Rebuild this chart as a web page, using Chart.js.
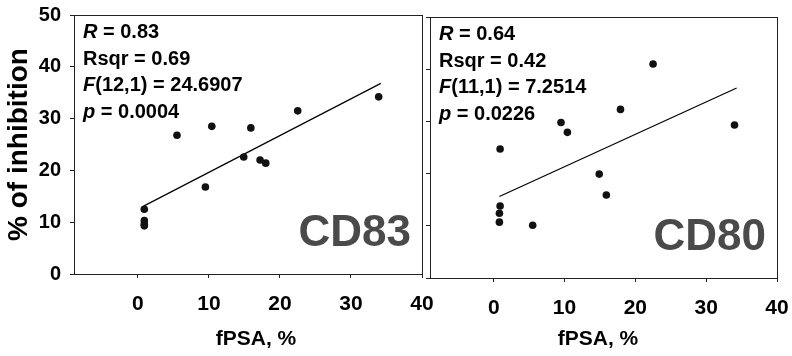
<!DOCTYPE html>
<html>
<head>
<meta charset="utf-8">
<script src="https://cdn.jsdelivr.net/npm/chart.js@4.4.1/dist/chart.umd.min.js"></script>
<style>
  html, body { margin: 0; padding: 0; background: #fff; }
  #wrap { position: relative; width: 792px; height: 356px; overflow: hidden; }
  #wrap canvas { position: absolute; top: 0; }
  #chartCD83 { left: 0; }
  #chartCD80 { left: 410px; }
</style>
</head>
<body>
<div id="wrap">
  <canvas id="chartCD83" width="440" height="356"></canvas>
  <canvas id="chartCD80" width="382" height="356"></canvas>
</div>
<script>
// --- данные ---
const xTickValues = [0, 10, 20, 30, 40];
const yTickValues = [0, 10, 20, 30, 40, 50];

// CD83
const fpsaCD83  = [0.9, 0.9, 0.9, 0.9, 5.5, 9.5, 10.4, 14.9, 15.9, 17.2, 18.0, 22.5, 33.9];
const inhibCD83 = [12.5, 10.3, 9.6, 9.3, 26.8, 16.8, 28.5, 22.6, 28.2, 22.0, 21.4, 31.5, 34.2];
const fitXCD83  = [0.8, 34.2];
const fitYCD83  = [13.1, 36.8];
const statsCD83 = ['0.83', '0.69', '(12,1)', '24.6907', '0.0004'];

// CD80
const fpsaCD80  = [0.9, 0.9, 0.8, 0.8, 5.5, 9.5, 10.4, 14.9, 15.9, 17.9, 22.5, 34.0];
const inhibCD80 = [24.7, 13.8, 12.4, 10.7, 10.1, 29.8, 27.9, 19.9, 15.9, 32.3, 41.0, 29.3];
const fitXCD80  = [0.8, 34.3];
const fitYCD80  = [15.6, 36.4];
const statsCD80 = ['0.64', '0.42', '(11,1)', '7.2514', '0.0226'];

const FONT = "'Liberation Sans', Arial, sans-serif";
Chart.defaults.font.family = FONT;
Chart.defaults.color = '#000';

// строки подписи со статистикой: [текст, курсив?]
function statLines(s) {
    return [
        [['R', true], [' = ' + s[0], false]],
        [['Rsqr = ' + s[1], false]],
        [['F', true], [s[2] + ' = ' + s[3], false]],
        [['p', true], [' = ' + s[4], false]]
    ];
}

// рамка, статистика, большая метка и подпись оси X
const panelDecor = {
    id: 'panelDecor',
    afterDraw(chart, args, opts) {
        const { ctx, chartArea: a } = chart;
        ctx.save();
        ctx.strokeStyle = '#222';
        ctx.lineWidth = 1;
        ctx.strokeRect(Math.round(a.left) + 0.5, Math.round(a.top) + 0.5,
            Math.round(a.right - a.left), Math.round(a.bottom - a.top));

        ctx.fillStyle = '#000';
        ctx.textAlign = 'left';
        ctx.textBaseline = 'middle';
        opts.lines.forEach((segs, i) => {
            let x = a.left + 9;
            const y = a.top + 17.5 + i * 26.5;
            segs.forEach(([t, it]) => {
                ctx.font = (it ? 'italic ' : '') + 'bold 20px ' + FONT;
                ctx.fillText(t, x, y);
                x += ctx.measureText(t).width;
            });
        });

        ctx.font = 'bold 44px ' + FONT;
        ctx.fillStyle = '#4a4a4a';
        ctx.textAlign = 'right';
        ctx.textBaseline = 'alphabetic';
        ctx.fillText(opts.label, a.right - 11, a.bottom - 28);

        ctx.font = 'bold 21px ' + FONT;
        ctx.fillStyle = '#000';
        ctx.textAlign = 'center';
        ctx.textBaseline = 'middle';
        ctx.fillText('fPSA, %', opts.xTitleX, 339);
        ctx.restore();
    }
};

function makePanel(id, xs, ys, fitX, fitY, stats, label, cfg) {
    const points = xs.map((x, i) => ({ x: x, y: ys[i] }));
    const fit = fitX.map((x, i) => ({ x: x, y: fitY[i] }));
    return new Chart(document.getElementById(id), {
        type: 'scatter',
        data: {
            datasets: [{
                data: points,
                pointRadius: 3.8,
                pointBackgroundColor: '#111',
                pointBorderWidth: 0
            }, {
                data: fit,
                showLine: true,
                pointRadius: 0,
                borderColor: '#000',
                borderWidth: 1.2
            }]
        },
        options: {
            responsive: false,
            animation: false,
            layout: { padding: cfg.padding },
            plugins: {
                legend: { display: false },
                tooltip: { enabled: false },
                panelDecor: { lines: statLines(stats), label: label, xTitleX: cfg.xTitleX }
            },
            scales: {
                x: {
                    type: 'linear',
                    min: -9, max: 40,
                    afterBuildTicks: s => { s.ticks = xTickValues.map(v => ({ value: v })); },
                    afterFit: s => {
                        s.height = cfg.xHeight;
                        s.paddingLeft = 0;
                        s.paddingRight = 0;
                    },
                    grid: { drawOnChartArea: false, tickLength: 4, color: '#222' },
                    border: { color: '#222', width: 1 },
                    ticks: { font: { size: 21, weight: 'bold' }, padding: 13.5, maxRotation: 0 }
                },
                y: {
                    type: 'linear',
                    min: 0, max: 50,
                    afterBuildTicks: s => { s.ticks = yTickValues.map(v => ({ value: v })); },
                    afterFit: s => {
                        s.width = cfg.yWidth;
                        s.paddingTop = 0;
                        s.paddingBottom = 0;
                    },
                    grid: { drawOnChartArea: false, tickLength: 4, color: '#222' },
                    border: { color: '#222', width: 1 },
                    ticks: {
                        font: { size: 20, weight: 'bold' },
                        padding: 9,
                        callback: cfg.yLabels ? (v => v) : (() => '')
                    },
                    title: {
                        display: cfg.yLabels,
                        text: '% of inhibition',
                        font: { size: 28, weight: 'bold' },
                        padding: { top: 2, bottom: 0 }
                    }
                }
            }
        },
        plugins: [panelDecor]
    });
}

makePanel('chartCD83', fpsaCD83, inhibCD83, fitXCD83, fitYCD83, statsCD83, 'CD83', {
    padding: { left: 0, top: 15, right: 18, bottom: 0 },
    xHeight: 82, yWidth: 74, yLabels: true, xTitleX: 256
});
makePanel('chartCD80', fpsaCD80, inhibCD80, fitXCD80, fitYCD80, statsCD80, 'CD80', {
    padding: { left: 0, top: 17, right: 15, bottom: 0 },
    xHeight: 78, yWidth: 20, yLabels: false, xTitleX: 188
});
</script>
</body>
</html>
